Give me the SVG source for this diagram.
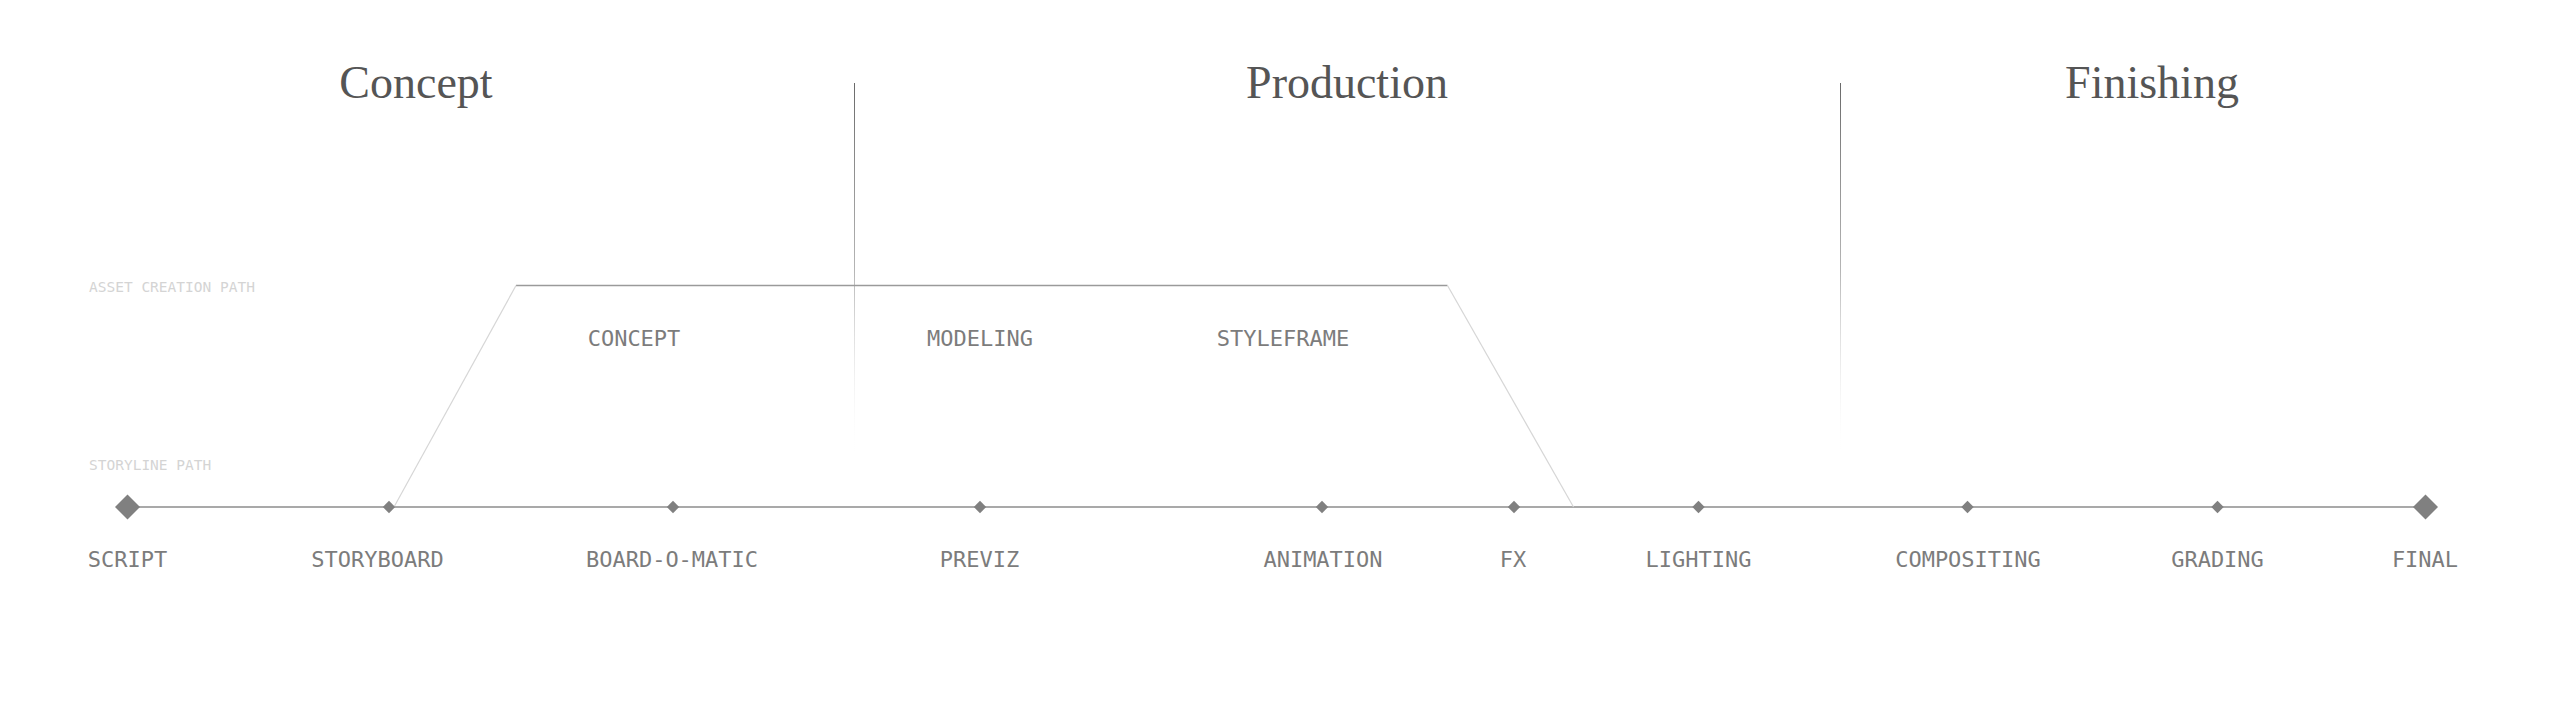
<svg xmlns="http://www.w3.org/2000/svg" width="2560" height="710" viewBox="0 0 2560 710">
  <defs>
    <linearGradient id="fade" x1="0" y1="83" x2="0" y2="458" gradientUnits="userSpaceOnUse">
      <stop offset="0" stop-color="#6a6a6a" stop-opacity="1"/>
      <stop offset="0.5" stop-color="#a8a8a8" stop-opacity="0.85"/>
      <stop offset="1" stop-color="#ffffff" stop-opacity="0"/>
    </linearGradient>
    <path id="dmSmall" d="M0,-6.2 L6.2,0 L0,6.2 L-6.2,0 Z"/>
    <path id="dmBig" d="M0,-12.5 L12.5,0 L0,12.5 L-12.5,0 Z"/>
  </defs>
  <style>
    .title { font-family: "Liberation Serif", "Times New Roman", serif; font-size: 46px; fill: #555555; text-anchor: middle; }
    .lbl { font-family: "DejaVu Sans Mono", "Liberation Mono", monospace; font-size: 22px; fill: #7c7c7c; text-anchor: middle; }
    .hint { font-family: "DejaVu Sans Mono", "Liberation Mono", monospace; font-size: 14.5px; fill: #d4d4d4; }
    .dm { fill: #808080; }
    .main { stroke: #8c8c8c; stroke-width: 1.3; fill: none; }
    .asset { stroke: #9a9a9a; stroke-width: 1.3; fill: none; }
    .slant { stroke: #d6d6d6; stroke-width: 1.2; fill: none; }
    .divider { fill: url(#fade); }
  </style>
  <rect width="2560" height="710" fill="#ffffff"/>

  <g id="phases">
    <text class="title" x="416" y="98">Concept</text>
    <text class="title" x="1347" y="98">Production</text>
    <text class="title" x="2152" y="98">Finishing</text>
    <rect class="divider" x="854" y="83" width="1" height="375"/>
    <rect class="divider" x="1840" y="83" width="1" height="375"/>
  </g>

  <g id="lane-labels">
    <text class="hint" x="89" y="292">ASSET CREATION PATH</text>
    <text class="hint" x="89" y="470">STORYLINE PATH</text>
  </g>

  <g id="connectors">
    <line class="main" x1="127" y1="507" x2="2425" y2="507"/>
    <line class="asset" x1="516" y1="285.5" x2="1447.5" y2="285.5"/>
    <line class="slant" x1="394" y1="507" x2="516" y2="285.5"/>
    <line class="slant" x1="1447.5" y1="285.5" x2="1573.5" y2="507"/>
  </g>

  <g id="node-script"><use href="#dmBig" class="dm" x="127.5" y="507"/><text class="lbl" x="127.5" y="567">SCRIPT</text></g>
  <g id="node-storyboard"><use href="#dmSmall" class="dm" x="389" y="507"/><text class="lbl" x="377.5" y="567">STORYBOARD</text></g>
  <g id="node-boardomatic"><use href="#dmSmall" class="dm" x="673" y="507"/><text class="lbl" x="672" y="567">BOARD-O-MATIC</text></g>
  <g id="node-previz"><use href="#dmSmall" class="dm" x="980" y="507"/><text class="lbl" x="979.5" y="567">PREVIZ</text></g>
  <g id="node-animation"><use href="#dmSmall" class="dm" x="1322" y="507"/><text class="lbl" x="1323" y="567">ANIMATION</text></g>
  <g id="node-fx"><use href="#dmSmall" class="dm" x="1514" y="507"/><text class="lbl" x="1513" y="567">FX</text></g>
  <g id="node-lighting"><use href="#dmSmall" class="dm" x="1698.5" y="507"/><text class="lbl" x="1698.5" y="567">LIGHTING</text></g>
  <g id="node-compositing"><use href="#dmSmall" class="dm" x="1967.5" y="507"/><text class="lbl" x="1968" y="567">COMPOSITING</text></g>
  <g id="node-grading"><use href="#dmSmall" class="dm" x="2217.5" y="507"/><text class="lbl" x="2217.5" y="567">GRADING</text></g>
  <g id="node-final"><use href="#dmBig" class="dm" x="2425.5" y="507"/><text class="lbl" x="2425" y="567">FINAL</text></g>

  <g id="asset-concept"><text class="lbl" x="634" y="346">CONCEPT</text></g>
  <g id="asset-modeling"><text class="lbl" x="980" y="346">MODELING</text></g>
  <g id="asset-styleframe"><text class="lbl" x="1283" y="346">STYLEFRAME</text></g>
</svg>
